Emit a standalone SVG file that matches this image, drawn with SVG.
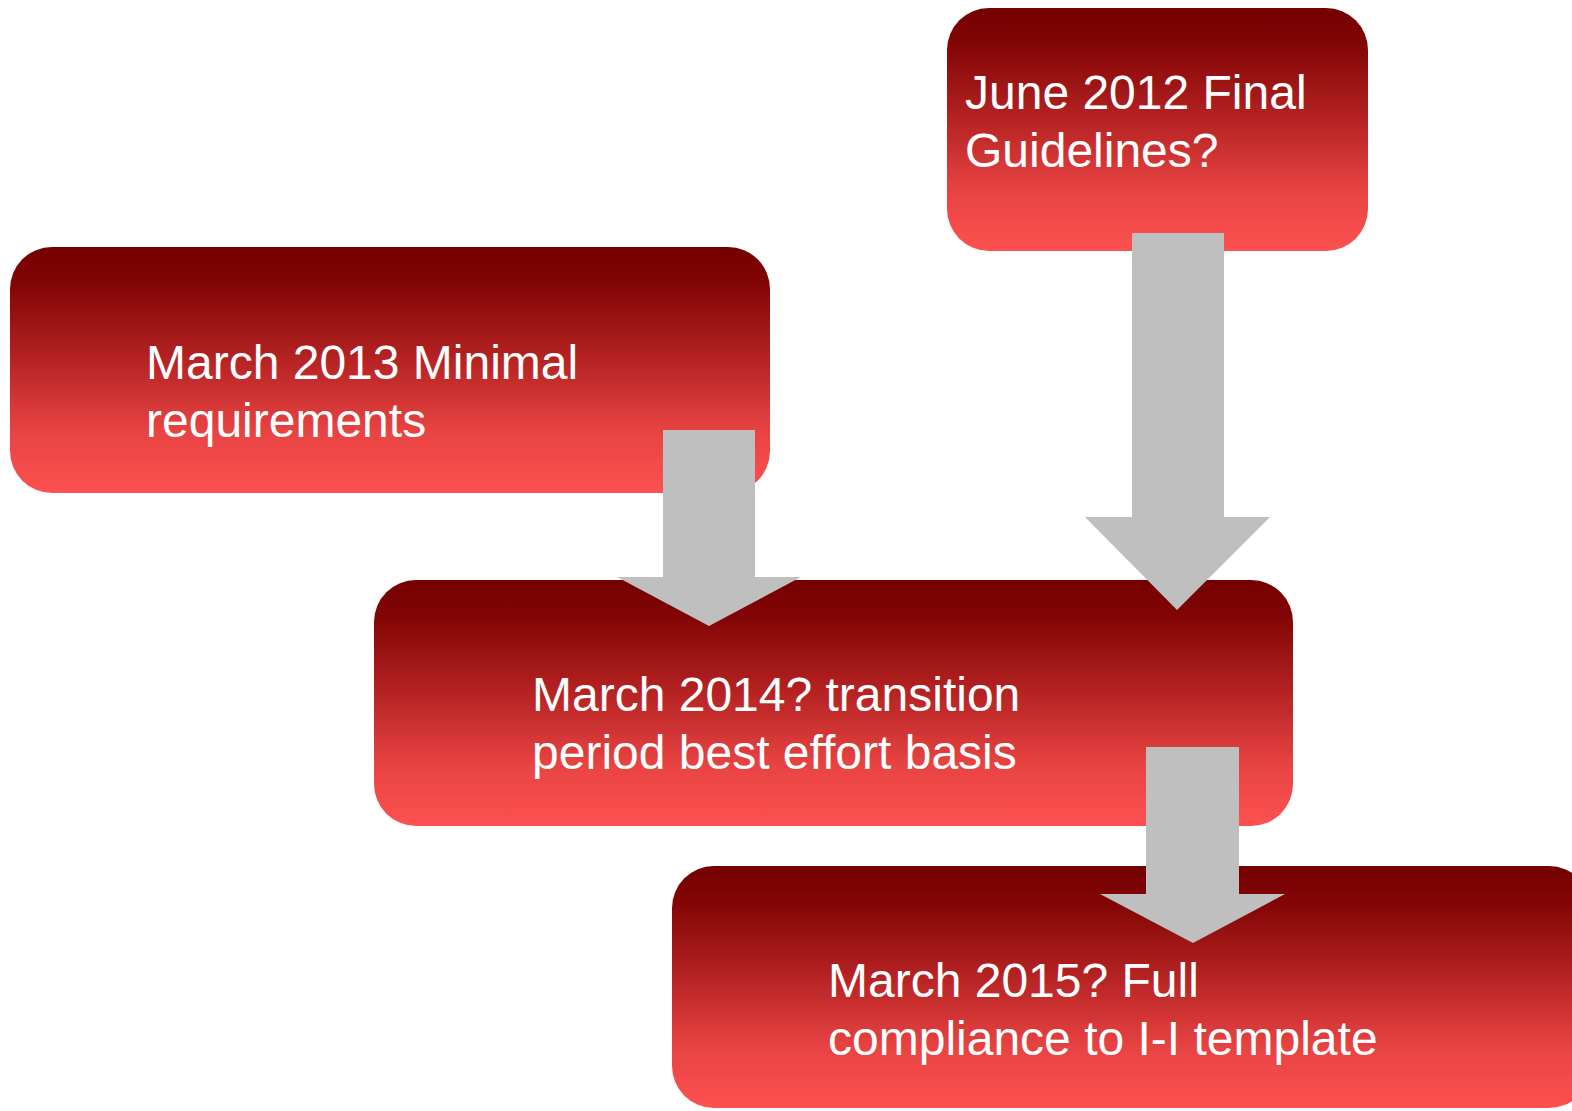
<svg xmlns="http://www.w3.org/2000/svg" width="1572" height="1111" viewBox="0 0 1572 1111">
<defs>
<linearGradient id="redGrad" x1="0" y1="0" x2="0" y2="1">
<stop offset="0" stop-color="#740000"/>
<stop offset="0.15" stop-color="#820505"/>
<stop offset="0.45" stop-color="#b42222"/>
<stop offset="0.75" stop-color="#e84343"/>
<stop offset="1" stop-color="#fd5151"/>
</linearGradient>
<style>
.box { fill: url(#redGrad); }
.label { font-family: "Liberation Sans", Arial, sans-serif; font-size: 48px; fill: #ffffff; }
.arrow { fill: #bfbfbf; }
</style>
</defs>
<rect width="1572" height="1111" fill="#ffffff"/>
<g id="node-june2012">
<rect class="box" x="947" y="8" width="421" height="243" rx="42" ry="42"/>
<text class="label" x="965" y="109">June 2012 Final</text>
<text class="label" x="965" y="167">Guidelines?</text>
</g>
<g id="node-march2013">
<rect class="box" x="10" y="247" width="760" height="246" rx="42" ry="42"/>
<text class="label" x="146" y="379">March 2013 Minimal</text>
<text class="label" x="146" y="437">requirements</text>
</g>
<g id="node-march2014">
<rect class="box" x="374" y="580" width="919" height="246" rx="42" ry="42"/>
<text class="label" x="532" y="711">March 2014? transition</text>
<text class="label" x="532" y="769">period best effort basis</text>
</g>
<g id="node-march2015">
<rect class="box" x="672" y="866" width="919" height="242" rx="42" ry="42"/>
<text class="label" x="828" y="997">March 2015? Full</text>
<text class="label" x="828" y="1055">compliance to I-I template</text>
</g>
<g id="connectors">
<polygon class="arrow" points="663,430 755,430 755,577 801,577 709,626 617,577 663,577"/>
<polygon class="arrow" points="1132,233 1224,233 1224,517 1270,517 1177,610 1085,517 1132,517"/>
<polygon class="arrow" points="1146,747 1239,747 1239,894 1285,894 1193,943 1100,894 1146,894"/>
</g>
</svg>
